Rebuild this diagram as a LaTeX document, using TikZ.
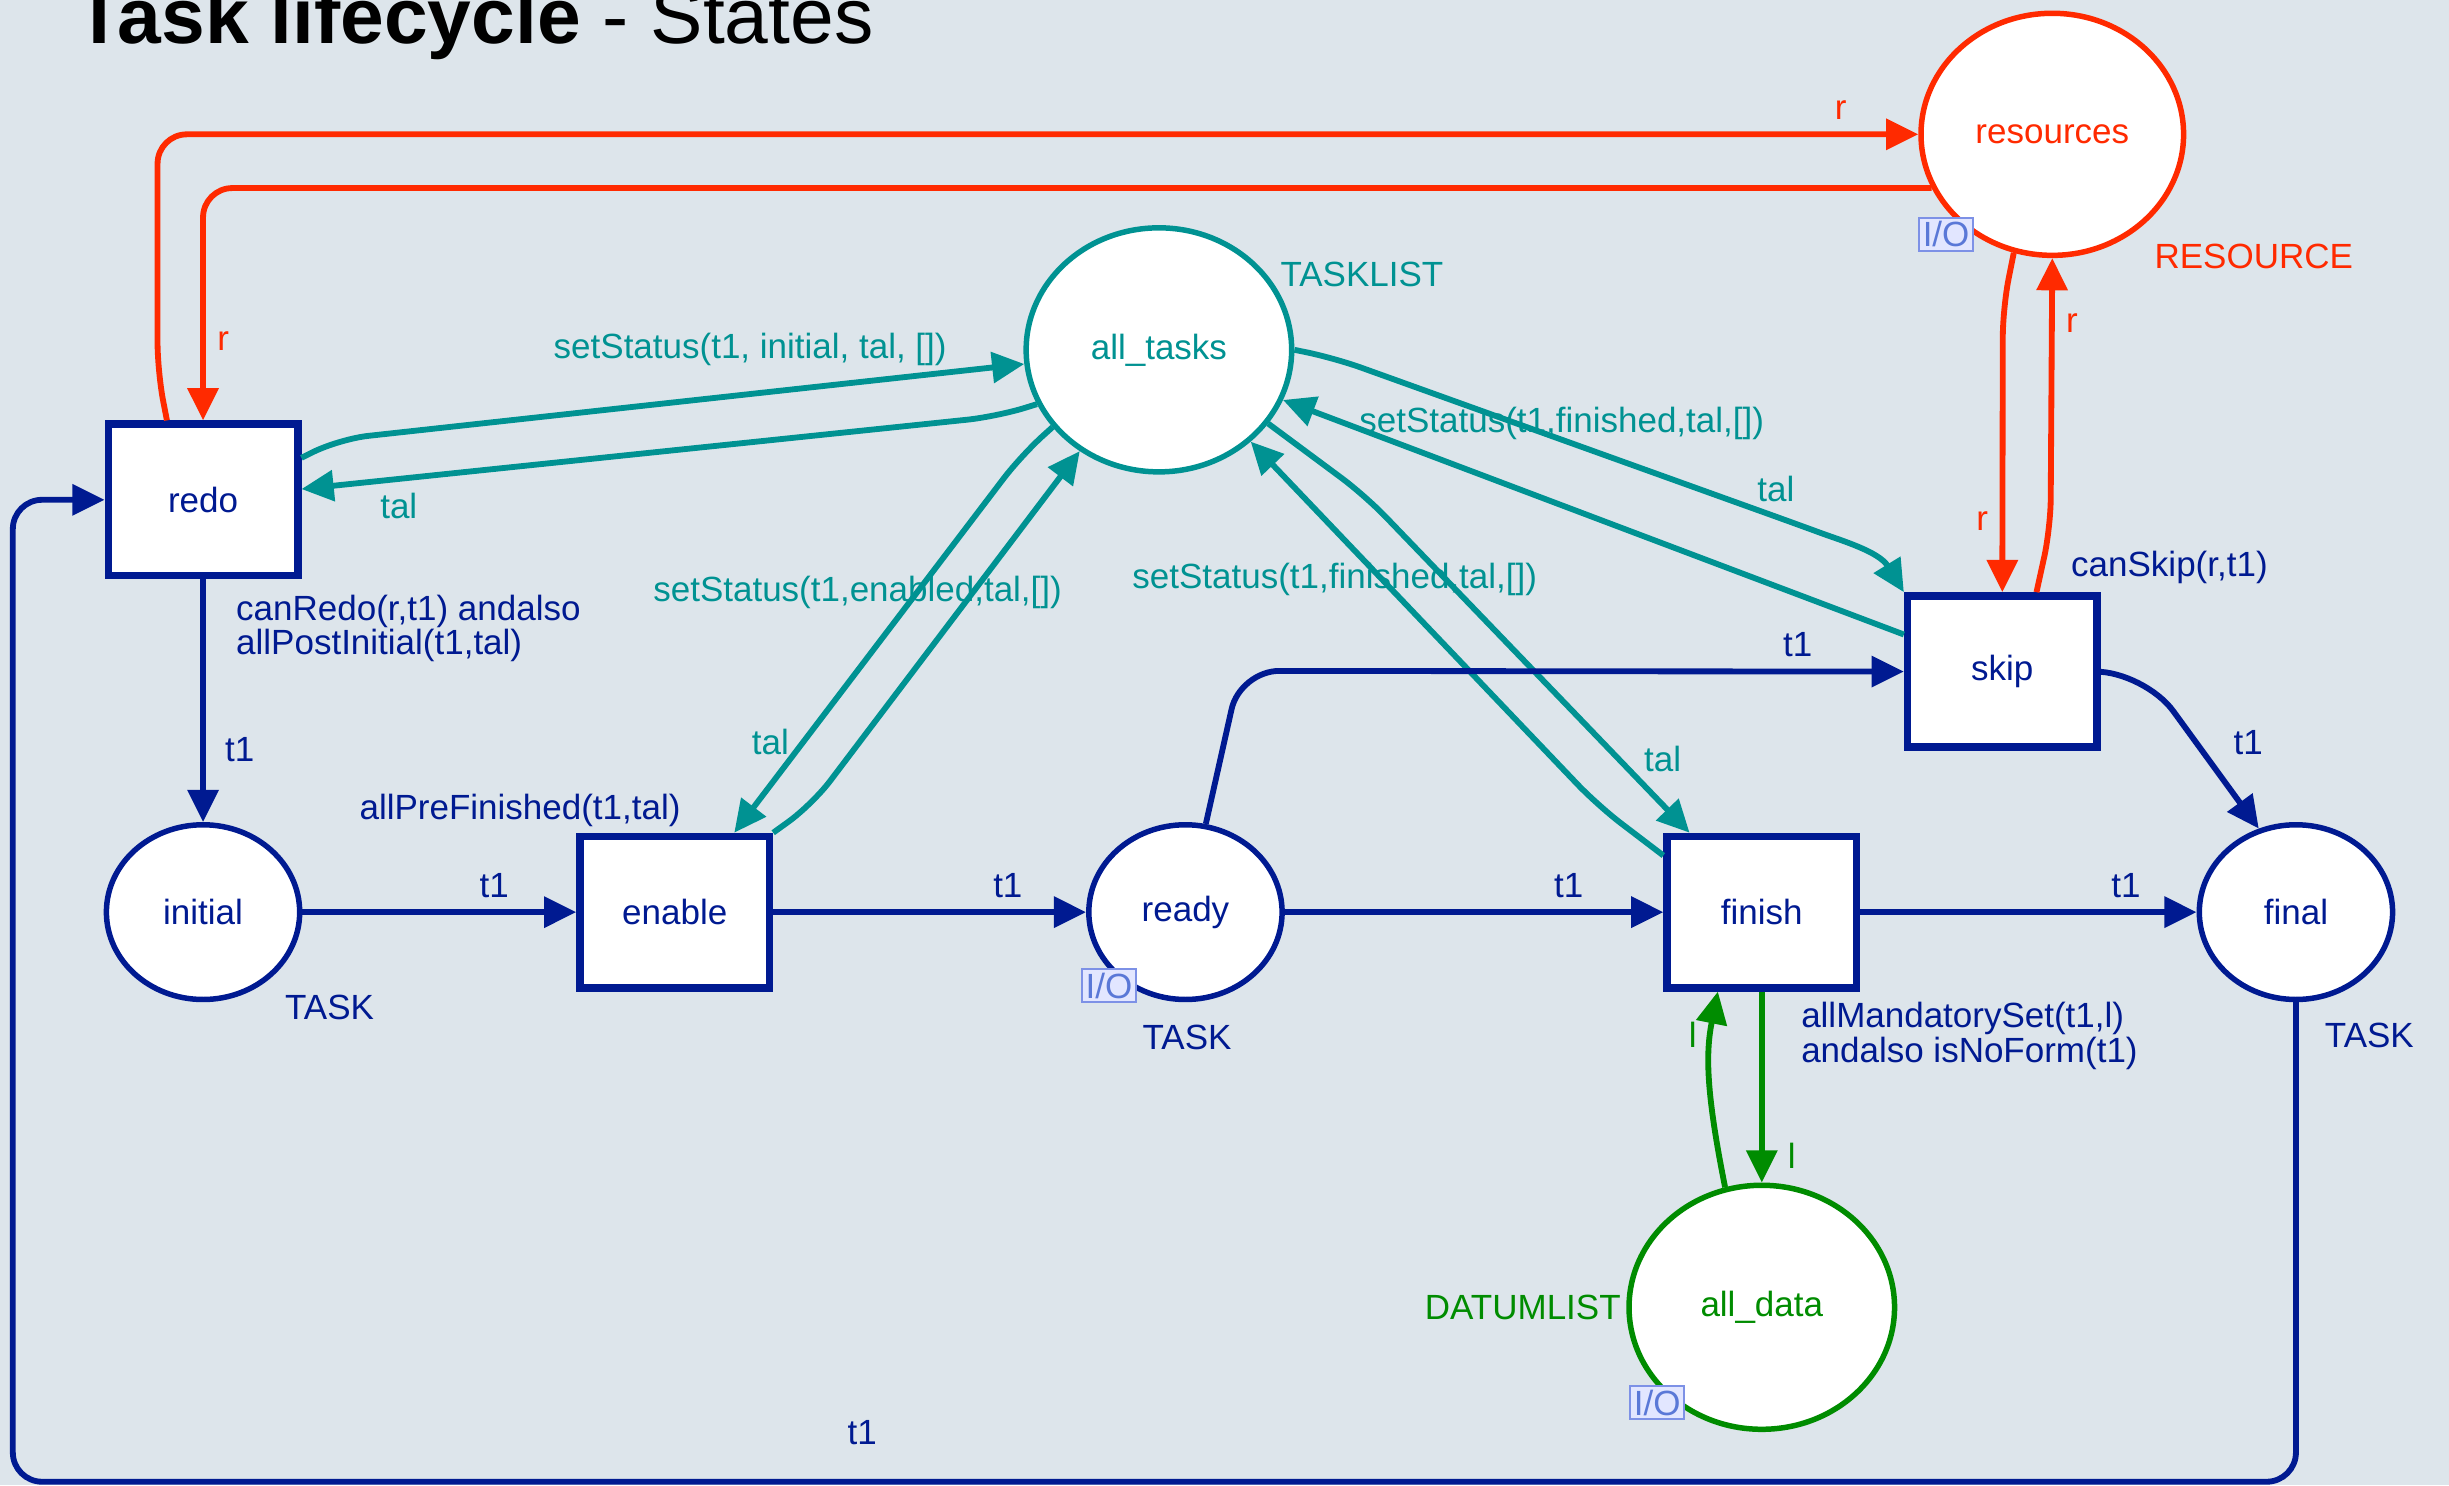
\documentclass[tikz,border=0pt]{standalone}
\usepackage{fontspec}
\setmainfont{Liberation Sans}
\usetikzlibrary{shapes.geometric,arrows.meta,positioning}

\definecolor{bgcol}{RGB}{221,229,235}
\definecolor{tasknavy}{RGB}{0,26,145}
\definecolor{listteal}{RGB}{0,146,146}
\definecolor{resred}{RGB}{255,42,0}
\definecolor{datagreen}{RGB}{0,140,0}
\definecolor{iofill}{RGB}{226,230,255}
\definecolor{ioline}{RGB}{125,145,230}
\definecolor{iotext}{RGB}{90,120,215}

\tikzset{
	place/.style={ellipse, draw, fill=white, line width=1.6pt, inner sep=0pt,
		minimum width=19.8mm, minimum height=17.9mm},
	taskplace/.style={place, draw=tasknavy, text=tasknavy},
	bigplace/.style={place, minimum width=27.2mm, minimum height=25mm},
	trans/.style={rectangle, draw=tasknavy, fill=white, line width=2.2pt, text=tasknavy,
		minimum width=19.4mm, minimum height=15.5mm},
	pnarc/.style={line width=1.7pt, rounded corners=3mm,
		-{Triangle[length=3.3mm,width=3.1mm]}},
	taskarc/.style={pnarc, draw=tasknavy, text=tasknavy},
	listarc/.style={pnarc, draw=listteal, text=listteal},
	resarc/.style={pnarc, draw=resred, text=resred},
	dataarc/.style={pnarc, draw=datagreen, text=datagreen},
	iotag/.style={draw=ioline, fill=iofill, text=iotext, line width=0.6pt, inner sep=0.35mm}
}

\begin{document}
\begin{tikzpicture}[x=0.16mm, y=-0.16mm, font=\fontsize{10.2}{10}\selectfont]
		\useasboundingbox (0,0) rectangle (1568,951);
		\fill[bgcol] (0,0) rectangle (1568,951);
		
		%titolo
		\node[anchor=base west, inner sep=0pt, font=\fontsize{22.9}{26}\selectfont] (title) at (48,28)
			{\textbf{Task lifecycle} - States};
		
		%transitions
		\node[trans] (redo) at (130,320) {redo};
		\node[trans] (enable) at (432,584) {enable};
		\node[trans] (finish) at (1128,584) {finish};
		\node[trans] (skip) at (1282,430) {skip};
		
		%places
		\node[taskplace] (initial) at (130,584) {initial};
		\node[taskplace] (ready) at (759,584) {ready};
		\node[taskplace] (final) at (1470,584) {final};
		\node[bigplace, draw=listteal, text=listteal] (alltasks) at (742,224) {all\_tasks};
		\node[bigplace, draw=resred, text=resred, minimum width=26.9mm, minimum height=24.8mm]
			(resources) at (1314,86) {resources};
		\node[bigplace, draw=datagreen, text=datagreen] (alldata) at (1128,837) {all\_data};
		
		%colour sets
		\node[text=tasknavy] (inittype) at (211,645) {TASK};
		\node[text=tasknavy] (readytype) at (760,664) {TASK};
		\node[text=tasknavy] (finaltype) at (1517,663) {TASK};
		\node[text=listteal] (listtype) at (872,176) {TASKLIST};
		\node[text=resred] (restype) at (1443,164) {RESOURCE};
		\node[text=datagreen] (datatype) at (975,837) {DATUMLIST};
		
		%io tags
		\node[iotag] (resio) at (1246,150) {I/O};
		\node[iotag] (readyio) at (710,631) {I/O};
		\node[iotag] (dataio) at (1061,898) {I/O};
		
		%guards
		\node[text=tasknavy, align=left, anchor=north west] (redoguard) at (143.5,373)
			{canRedo(r,t1) andalso\\allPostInitial(t1,tal)};
		\node[text=tasknavy] (enableguard) at (333,519) {allPreFinished(t1,tal)};
		\node[text=tasknavy] (skipguard) at (1389,363) {canSkip(r,t1)};
		\node[text=tasknavy, align=left, anchor=north west] (finishguard) at (1145.5,634)
			{allMandatorySet(t1,l)\\andalso isNoForm(t1)};
		
		%resources
		\draw[resarc] ([xshift=-3.7mm]redo.north) -- ++(-6,-31) |- (resources.west)
			node[pos=0.978, above] (r1) {r};
		\draw[resarc] (resources.204) -| (redo.north) node[pos=0.83, right] (r2) {r};
		\draw[resarc] (resources.252) -- ++(-7,35) -- (skip.north) node[pos=0.75, left] (r3) {r};
		\draw[resarc] ([xshift=3.5mm]skip.north) -- ++(9,-41) -- (resources.south)
			node[pos=0.76, right] (r4) {r};
		
		%task list
		\draw[listarc] ([yshift=4.3mm]redo.east) -- ++(24,-12) -- (alltasks.186)
			node[pos=0.6, above=1.4mm] (l1) {setStatus(t1, initial, tal, [])};
		\draw[listarc] (alltasks.204) -- ++(-26,8) -- ([yshift=1.1mm]redo.east)
			node[pos=0.86, below] (l2) {tal};
		\draw[listarc] (alltasks.216) -- ++(-20,18) -- ([xshift=6.1mm]enable.north)
			node[pos=0.76, left] (l3) {tal};
		\draw[listarc] (enable.north east) -- ++(25,-18) -- (alltasks.232)
			node[pos=0.6, xshift=-11.8mm] (l4) {setStatus(t1,enabled,tal,[])};
		\draw[listarc] (alltasks.east) -- ++(25,5) -- ++(295,106) node[pos=0.96, above] (l5) {tal}
			.. controls +(30,11) and +(-16,-26) .. (skip.north west);
		\draw[listarc] ([yshift=3.8mm]skip.west) -- (alltasks.338)
			node[pos=0.9, anchor=west] (l6) {setStatus(t1,finished,tal,[])};
		\draw[listarc] (alltasks.326) -- ++(62,46) -- ([xshift=-7.4mm]finish.north)
			node[pos=0.78, right=1.2mm] (l7) {tal};
		\draw[listarc] ([yshift=5.8mm]finish.west) -- ++(-42,-32) -- (alltasks.315)
			node[pos=0.62, xshift=-4.9mm] (l8) {setStatus(t1,finished,tal,[])};
		
		%task flow
		\draw[taskarc] (redo.south) -- (initial.north) node[pos=0.7, right=0.8mm] (t1a) {t1};
		\draw[taskarc] (initial.east) -- (enable.west) node[pos=0.7, above] (t1b) {t1};
		\draw[taskarc] (enable.east) -- (ready.west) node[pos=0.75, above] (t1c) {t1};
		\draw[taskarc] (ready.east) -- (finish.west) node[pos=0.75, above] (t1d) {t1};
		\draw[taskarc] (finish.east) -- (final.west) node[pos=0.79, above] (t1e) {t1};
		\draw[taskarc, rounded corners=4mm] (ready.77) -- ++(22,-98) -- (skip.west)
			node[pos=0.84, above] (t1f) {t1};
		\draw[taskarc, rounded corners=5mm] (skip.east) -- ++(28,0) -- (final.114)
			node[pos=0.45, right=2.4mm] (t1g) {t1};
		\draw[taskarc] (final.south) -- ++(0,307) -| ([xshift=-9.4mm]redo.west)
			node[pos=0.314, above=2.3mm] (t1h) {t1} -- (redo.west);
		
		%data
		\draw[dataarc] (finish.south) -- (alldata.north) node[pos=0.86, right=1.2mm] (d1) {l};
		\draw[dataarc] (alldata.107) .. controls +(-12,-60) and +(-8,40) .. ([xshift=-4.5mm]finish.south)
			node[pos=0.75, left] (d2) {l};
	\end{tikzpicture}
\end{document}
